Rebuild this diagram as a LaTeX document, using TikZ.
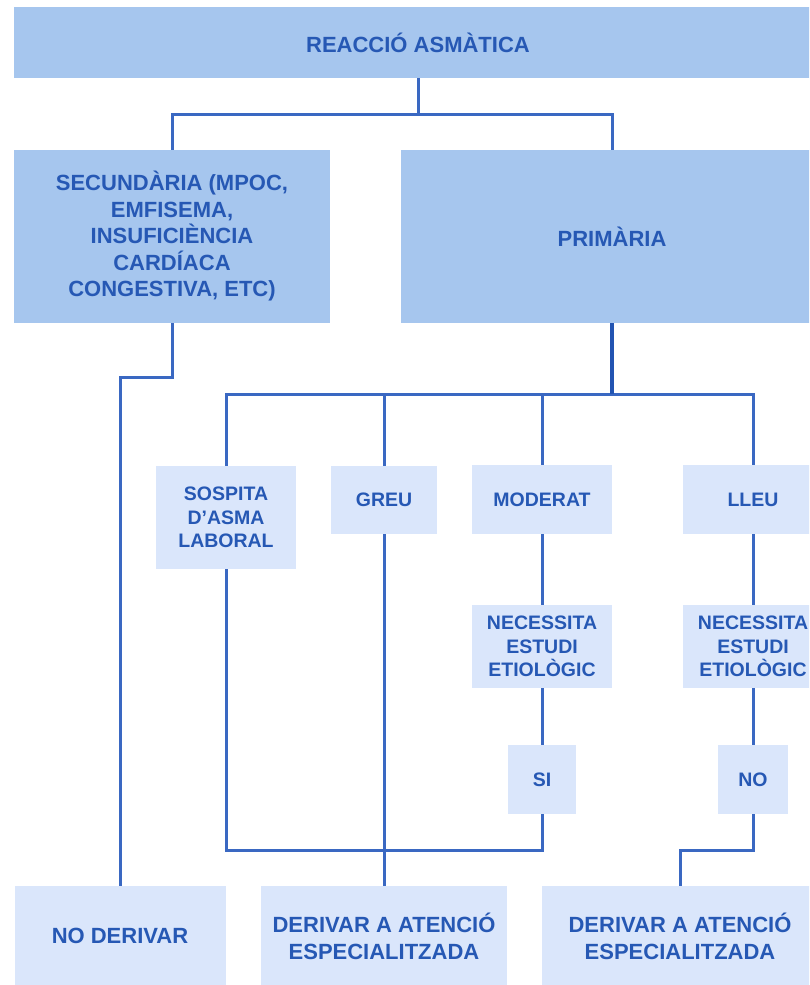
\documentclass[tikz,border=0pt]{standalone}
\usepackage{fontspec}
\setmainfont{Liberation Sans}
\definecolor{topfill}{RGB}{166,198,238}
\definecolor{lightfill}{RGB}{218,230,251}
\definecolor{txt}{RGB}{38,88,180}
\definecolor{ln}{RGB}{58,104,194}
\definecolor{lndark}{RGB}{34,84,178}
\begin{document}
\begin{tikzpicture}[x=1pt,y=-1pt,
  bigbox/.style={fill=topfill, text=txt, font=\bfseries\fontsize{22}{26.5}\selectfont, align=center, inner sep=0pt},
  smallbox/.style={fill=lightfill, text=txt, font=\bfseries\fontsize{19.5}{23.5}\selectfont, align=center, inner sep=0pt},
  botbox/.style={fill=lightfill, text=txt, font=\bfseries\fontsize{22}{27}\selectfont, align=center, inner sep=0pt},
  conn/.style={draw=ln, line width=3pt},
  thickconn/.style={draw=lndark, line width=4pt}]
\clip (0,0) rectangle (809,985);
\fill[white] (0,0) rectangle (809,985);
% boxes
\node[bigbox, minimum width=808pt, minimum height=71pt] (top) at (418,42.5) {REACCIÓ ASMÀTICA};
\node[bigbox, minimum width=316pt, minimum height=173pt] (sec) at (172,236.5) {SECUNDÀRIA (MPOC,\\EMFISEMA,\\INSUFICIÈNCIA\\CARDÍACA\\CONGESTIVA, ETC)};
\node[bigbox, minimum width=422pt, minimum height=173pt] (prim) at (612,236.5) {PRIMÀRIA};
\node[smallbox, minimum width=140pt, minimum height=103pt] (sosp) at (226,517.5) {SOSPITA\\D’ASMA\\LABORAL};
\node[smallbox, minimum width=106pt, minimum height=68pt] (greu) at (384,500) {GREU};
\node[smallbox, minimum width=140pt, minimum height=69pt] (mod) at (542,499.5) {MODERAT};
\node[smallbox, minimum width=140pt, minimum height=69pt] (lleu) at (753,499.5) {LLEU};
\node[smallbox, minimum width=140pt, minimum height=83pt] (nec1) at (542,646.5) {NECESSITA\\ESTUDI\\ETIOLÒGIC};
\node[smallbox, minimum width=140pt, minimum height=83pt] (nec2) at (753,646.5) {NECESSITA\\ESTUDI\\ETIOLÒGIC};
\node[smallbox, minimum width=68pt, minimum height=69pt] (si) at (542,779.5) {SI};
\node[smallbox, minimum width=70pt, minimum height=69pt] (no) at (753,779.5) {NO};
\node[botbox, minimum width=211pt, minimum height=100pt] (noder) at (120,936) {NO DERIVAR};
\node[botbox, minimum width=246pt, minimum height=100pt] (der1) at (384,936) {DERIVAR A ATENCIÓ\\ESPECIALITZADA};
\node[botbox, minimum width=276pt, minimum height=100pt] (der2) at (680,936) {DERIVAR A ATENCIÓ\\ESPECIALITZADA};
% connectors
\coordinate (j1) at (418,114);
\draw[conn] (top.south) -- (j1) -| (sec.north);
\draw[conn] (j1) -| (prim.north);
\coordinate (j2) at (172,377);
\draw[conn] (sec.south) -- (j2) -| (noder.north);
\coordinate (j3) at (612,394);
\draw[conn] (sosp.north) |- (j3) -| (lleu.north);
\draw[conn] (greu.north) -- (greu.north |- j3);
\draw[conn] (mod.north) -- (mod.north |- j3);
\draw[thickconn] (prim.south) -- (j3);
\draw[conn] (mod.south) -- (nec1.north);
\draw[conn] (nec1.south) -- (si.north);
\draw[conn] (lleu.south) -- (nec2.north);
\draw[conn] (nec2.south) -- (no.north);
\coordinate (j4) at (542,850);
\draw[conn] (sosp.south) |- (j4) -- (si.south);
\draw[conn] (greu.south) -- (der1.north);
\coordinate (j5) at (753,850);
\draw[conn] (no.south) -- (j5) -| (der2.north);
\end{tikzpicture}
\end{document}
